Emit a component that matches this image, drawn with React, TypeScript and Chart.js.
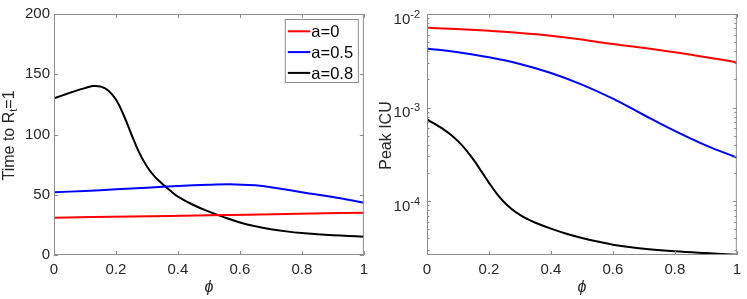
import React, { useEffect, useRef } from 'react';
import { Chart, registerables } from 'chart.js';

Chart.register(...registerables);

// ---------- data ----------
const seriesLabels = ['a=0', 'a=0.5', 'a=0.8'];
const seriesColors = ['#ff0000', '#0000ff', '#000000'];

const xTickLabels = ['0', '0.2', '0.4', '0.6', '0.8', '1'];
const leftYTicks = [0, 50, 100, 150, 200];
const logMajorExponents = [-2, -3, -4];

// Left panel: time to R_t = 1
const phiTimeA0 = [0, 0.25, 0.5, 0.75, 1];
const timeA0 = [31, 32.0, 32.9, 34.0, 35.1];

const phiTimeA05 = [0, 0.1, 0.2, 0.3, 0.4, 0.5, 0.57, 0.65, 0.7, 0.8, 0.9, 1];
const timeA05 = [52, 53.2, 54.5, 55.9, 57.2, 58.3, 58.8, 57.8, 56.3, 52.1, 48.1, 43.4];

const phiTimeA08 = [0, 0.025, 0.05, 0.075, 0.1, 0.125, 0.15, 0.175, 0.2, 0.225, 0.25, 0.275, 0.3, 0.325, 0.35, 0.375, 0.4, 0.45, 0.5, 0.55, 0.6, 0.65, 0.7, 0.75, 0.8, 0.85, 0.9, 0.95, 1];
const timeA08 = [130, 132.3, 134.5, 136.6, 138.5, 140.2, 139.8, 136.6, 129, 116, 100, 85, 73.5, 65, 59, 53.5, 48.5, 41.5, 36, 31.2, 27, 23.8, 21.4, 19.6, 18.2, 17.2, 16.4, 15.8, 15.2];

// Right panel: peak ICU
const phiPeakA0 = [0, 0.2, 0.4, 0.6, 0.8, 1];
const peakA0 = [7.13e-3, 6.61e-3, 5.86e-3, 4.79e-3, 3.89e-3, 3.04e-3];

const phiPeakA05 = [0, 0.1, 0.2, 0.3, 0.4, 0.5, 0.6, 0.7, 0.8, 0.9, 1];
const peakA05 = [4.29e-3, 3.89e-3, 3.44e-3, 2.92e-3, 2.34e-3, 1.76e-3, 1.245e-3, 8.32e-4, 5.62e-4, 3.94e-4, 2.92e-4];

const phiPeakA08 = [0, 0.025, 0.05, 0.075, 0.1, 0.125, 0.15, 0.175, 0.2, 0.225, 0.25, 0.275, 0.3, 0.325, 0.35, 0.4, 0.45, 0.5, 0.55, 0.6, 0.7, 0.8, 0.9, 1];
const peakA08 = [7.45e-4, 6.7e-4, 5.94e-4, 5.18e-4, 4.37e-4, 3.55e-4, 2.77e-4, 2.09e-4, 1.567e-4, 1.202e-4, 9.66e-5, 8.13e-5, 7.11e-5, 6.4e-5, 5.86e-5, 5.07e-5, 4.47e-5, 4.03e-5, 3.69e-5, 3.42e-5, 3.09e-5, 2.91e-5, 2.78e-5, 2.67e-5];

const peakMin = 2.65e-5;
const peakMax = 1e-2;

// ---------- styles ----------
const FONT = "'Liberation Sans', Arial, Helvetica, sans-serif";
const AXIS_GRAY = '#8c8c8c';
const TEXT = '#262626';

function makeDatasets(xs: number[][], ys: number[][]) {
  return xs.map((xArr, s) => ({
    label: seriesLabels[s],
    data: xArr.map((x, i) => ({ x, y: ys[s][i] })),
    borderColor: seriesColors[s],
    backgroundColor: seriesColors[s],
    borderWidth: 2,
    pointRadius: 0,
    fill: false,
    tension: 0.4,
  }));
}

type TitlePart = { text: string; size: number; dy: number };

function drawRotatedTitle(ctx: CanvasRenderingContext2D, parts: TitlePart[], baselineX: number, centerY: number) {
  ctx.save();
  ctx.translate(0, centerY);
  ctx.rotate(-Math.PI / 2);
  ctx.fillStyle = TEXT;
  ctx.textBaseline = 'alphabetic';
  ctx.textAlign = 'left';
  let total = 0;
  const widths = parts.map((p) => {
    ctx.font = `${p.size}px ${FONT}`;
    const w = ctx.measureText(p.text).width;
    total += w;
    return w;
  });
  let x = -total / 2;
  parts.forEach((p, i) => {
    ctx.font = `${p.size}px ${FONT}`;
    ctx.fillText(p.text, x, baselineX + p.dy);
    x += widths[i];
  });
  ctx.restore();
}

function matlabPlugin(opts: { yTitle: TitlePart[]; yTitleX: number; legend: boolean; log: boolean }) {
  return {
    id: 'matlabAxes',
    afterDraw(chart: any) {
      const ctx: CanvasRenderingContext2D = chart.ctx;
      const { left, right, top, bottom } = chart.chartArea;
      const xs = chart.scales.x;
      const ys = chart.scales.y;
      ctx.save();
      // frame
      ctx.strokeStyle = AXIS_GRAY;
      ctx.lineWidth = 1;
      ctx.strokeRect(left + 0.5, top + 0.5, right - left - 1, bottom - top - 1);
      // x ticks (inward, bottom and top)
      ctx.beginPath();
      xs.ticks.forEach((t: any) => {
        const px = Math.round(xs.getPixelForValue(t.value)) + 0.5;
        ctx.moveTo(px, bottom);
        ctx.lineTo(px, bottom - 4);
        ctx.moveTo(px, top);
        ctx.lineTo(px, top + 4);
      });
      // y ticks
      const yTick = (v: number, len: number) => {
        const py = Math.round(ys.getPixelForValue(v)) + 0.5;
        ctx.moveTo(left, py);
        ctx.lineTo(left + len, py);
        ctx.moveTo(right, py);
        ctx.lineTo(right - len, py);
      };
      if (opts.log) {
        for (let d = -5; d <= -2; d++) {
          for (let m = 1; m <= 9; m++) {
            const v = m * Math.pow(10, d);
            if (v < ys.min * 0.999 || v > ys.max * 1.001) continue;
            yTick(v, m === 1 ? 4 : 2.5);
          }
        }
      } else {
        ys.ticks.forEach((t: any) => yTick(t.value, 4));
      }
      ctx.stroke();

      // log tick labels 10^n
      if (opts.log) {
        ctx.fillStyle = TEXT;
        ctx.textBaseline = 'alphabetic';
        ctx.textAlign = 'left';
        logMajorExponents.forEach((e) => {
          const py = ys.getPixelForValue(Math.pow(10, e));
          ctx.font = `11px ${FONT}`;
          const expText = `-${Math.abs(e)}`;
          const we = ctx.measureText(expText).width;
          ctx.font = `15px ${FONT}`;
          const wb = ctx.measureText('10').width;
          const rightEdge = left - 7;
          ctx.fillText('10', rightEdge - we - wb, py + 9.5);
          ctx.font = `11px ${FONT}`;
          ctx.fillText(expText, rightEdge - we, py + 3.5);
        });
      }

      // y title
      drawRotatedTitle(ctx, opts.yTitle, opts.yTitleX, (top + bottom) / 2 + 1);

      // x title
      ctx.fillStyle = TEXT;
      ctx.font = `italic 16px ${FONT}`;
      ctx.textAlign = 'center';
      ctx.textBaseline = 'middle';
      ctx.fillText('\u03D5', (left + right) / 2, 288);

      // legend
      if (opts.legend) {
        const bx0 = right - 78.5;
        const bx1 = right - 5.5;
        const by0 = top + 5.5;
        const by1 = top + 68.5;
        ctx.fillStyle = '#ffffff';
        ctx.fillRect(bx0, by0, bx1 - bx0, by1 - by0);
        ctx.strokeStyle = AXIS_GRAY;
        ctx.lineWidth = 1;
        ctx.strokeRect(bx0, by0, bx1 - bx0, by1 - by0);
        chart.data.datasets.forEach((ds: any, i: number) => {
          const base = top + 23.3 + i * 20.8;
          const ly = base - 6;
          ctx.strokeStyle = ds.borderColor;
          ctx.lineWidth = 2;
          ctx.beginPath();
          ctx.moveTo(bx0 + 2.5, ly);
          ctx.lineTo(bx0 + 25, ly);
          ctx.stroke();
          ctx.fillStyle = '#000000';
          ctx.font = `16.5px ${FONT}`;
          ctx.textAlign = 'left';
          ctx.textBaseline = 'alphabetic';
          ctx.fillText(ds.label, bx0 + 26, base);
        });
      }
      ctx.restore();
    },
  };
}

const tickFont = { family: FONT, size: 15 };

function xScale() {
  return {
    type: 'linear' as const,
    min: 0,
    max: 1,
    afterFit: (s: any) => { s.height = 44; },
    grid: { display: false, drawTicks: false },
    border: { display: false },
    ticks: {
      stepSize: 0.2,
      autoSkip: false,
      maxRotation: 0,
      padding: 6,
      color: TEXT,
      font: tickFont,
      callback: (v: any) => {
        const idx = Math.round(Number(v) * 5);
        return xTickLabels[idx] ?? '';
      },
    },
  };
}

function baseOptions(padRight: number) {
  return {
    responsive: false,
    maintainAspectRatio: false,
    devicePixelRatio: 1,
    animation: false as const,
    events: [] as any[],
    layout: { padding: { left: 0, top: 14, right: padRight, bottom: 0 } },
    plugins: { legend: { display: false }, tooltip: { enabled: false } },
  };
}

export default function App() {
  const leftRef = useRef<HTMLCanvasElement>(null);
  const rightRef = useRef<HTMLCanvasElement>(null);

  useEffect(() => {
    const left = new Chart(leftRef.current as HTMLCanvasElement, {
      type: 'line',
      data: { datasets: makeDatasets([phiTimeA0, phiTimeA05, phiTimeA08], [timeA0, timeA05, timeA08]) as any },
      options: {
        ...baseOptions(8),
        scales: {
          x: xScale(),
          y: {
            type: 'linear',
            min: leftYTicks[0],
            max: leftYTicks[leftYTicks.length - 1],
            afterFit: (s: any) => { s.width = 54; },
            grid: { display: false, drawTicks: false },
            border: { display: false },
            ticks: { stepSize: 50, padding: 4, color: TEXT, font: tickFont, autoSkip: false },
          },
        },
      } as any,
      plugins: [
        matlabPlugin({
          yTitle: [
            { text: 'Time to R', size: 16, dy: 0 },
            { text: 't', size: 11, dy: 3.5 },
            { text: '=1', size: 16, dy: 0 },
          ],
          yTitleX: 13.5,
          legend: true,
          log: false,
        }),
      ],
    });

    const right = new Chart(rightRef.current as HTMLCanvasElement, {
      type: 'line',
      data: { datasets: makeDatasets([phiPeakA0, phiPeakA05, phiPeakA08], [peakA0, peakA05, peakA08]) as any },
      options: {
        ...baseOptions(5),
        scales: {
          x: xScale(),
          y: {
            type: 'logarithmic',
            min: peakMin,
            max: peakMax,
            afterFit: (s: any) => { s.width = 53; },
            grid: { display: false, drawTicks: false },
            border: { display: false },
            ticks: { display: false },
          },
        },
      } as any,
      plugins: [
        matlabPlugin({
          yTitle: [{ text: 'Peak ICU', size: 16, dy: 0 }],
          yTitleX: 16.5,
          legend: false,
          log: true,
        }),
      ],
    });

    return () => {
      left.destroy();
      right.destroy();
    };
  }, []);

  return (
    <div style={{ position: 'fixed', left: 0, top: 0, width: 747, height: 299, background: '#ffffff' }}>
      <canvas ref={leftRef} width={374} height={299} style={{ position: 'absolute', left: 0, top: 0 }} />
      <canvas ref={rightRef} width={373} height={299} style={{ position: 'absolute', left: 374, top: 0 }} />
    </div>
  );
}
